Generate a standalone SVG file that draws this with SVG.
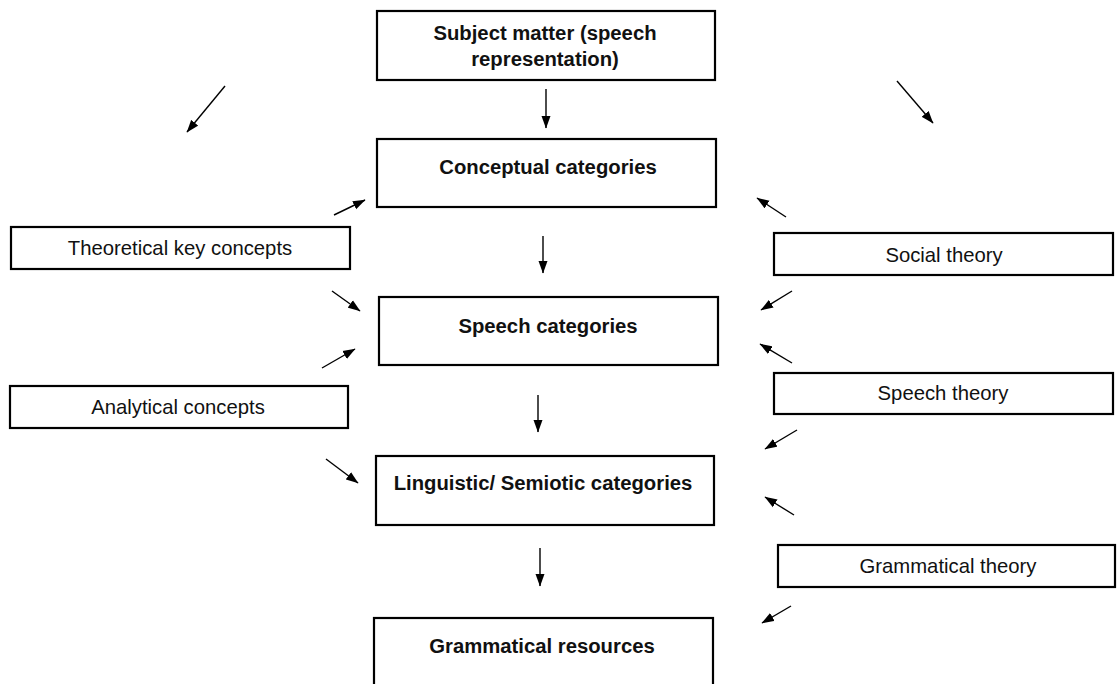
<svg xmlns="http://www.w3.org/2000/svg" width="1117" height="684" viewBox="0 0 1117 684">
<style>
.box{fill:#fff;stroke:#000;stroke-width:2.2}
.t{font-family:"Liberation Sans",Arial,sans-serif;font-size:20.3px;fill:#111;text-anchor:middle}
.b{font-weight:bold}
.c line{stroke:#000;stroke-width:1.4;marker-end:url(#ah)}
</style>
<defs>
<marker id="ah" markerUnits="userSpaceOnUse" markerWidth="13" markerHeight="10" refX="12" refY="5" orient="auto" viewBox="0 0 13 10">
<path d="M0,0.5 L12.5,5 L0,9.5 z" fill="#000"/>
</marker>
</defs>
<rect width="1117" height="684" fill="#fff"/>
<g id="subject"><rect class="box" x="377" y="11" width="338" height="69"/><text class="t b" x="545" y="40">Subject matter (speech</text><text class="t b" x="545" y="66">representation)</text></g>
<g id="conceptual"><rect class="box" x="377" y="139" width="339" height="68"/><text class="t b" x="548" y="174">Conceptual categories</text></g>
<g id="speechcat"><rect class="box" x="379" y="297" width="339" height="68"/><text class="t b" x="548" y="333">Speech categories</text></g>
<g id="linguistic"><rect class="box" x="376" y="456" width="338" height="69"/><text class="t b" x="543" y="490">Linguistic/ Semiotic categories</text></g>
<g id="resources"><rect class="box" x="374" y="618" width="339" height="80"/><text class="t b" x="542" y="653">Grammatical resources</text></g>
<g id="theoretical"><rect class="box" x="11" y="227" width="339" height="42"/><text class="t" x="180" y="255">Theoretical key concepts</text></g>
<g id="analytical"><rect class="box" x="10" y="386" width="338" height="42"/><text class="t" x="178" y="414">Analytical concepts</text></g>
<g id="social"><rect class="box" x="774" y="233" width="339" height="42"/><text class="t" x="944" y="262">Social theory</text></g>
<g id="speechtheory"><rect class="box" x="774" y="373" width="339" height="41"/><text class="t" x="943" y="400">Speech theory</text></g>
<g id="grammaticaltheory"><rect class="box" x="778" y="545" width="337" height="42"/><text class="t" x="948" y="573">Grammatical theory</text></g>
<g id="connectors" class="c">
<line x1="546" y1="89" x2="546" y2="128"/>
<line x1="543" y1="236" x2="543" y2="273"/>
<line x1="538" y1="395" x2="538" y2="432"/>
<line x1="540" y1="548" x2="540" y2="586"/>
<line x1="225" y1="86" x2="187" y2="132"/>
<line x1="897" y1="81" x2="933" y2="123"/>
<line x1="334" y1="215" x2="365" y2="200"/>
<line x1="332" y1="291" x2="360" y2="311"/>
<line x1="322" y1="368" x2="355" y2="349"/>
<line x1="326" y1="459" x2="358" y2="483"/>
<line x1="786" y1="217" x2="757" y2="198"/>
<line x1="792" y1="291" x2="761" y2="310"/>
<line x1="792" y1="363" x2="760" y2="344"/>
<line x1="797" y1="430" x2="765" y2="449"/>
<line x1="794" y1="515" x2="765" y2="497"/>
<line x1="791" y1="606" x2="762" y2="623"/>
</g>
</svg>
